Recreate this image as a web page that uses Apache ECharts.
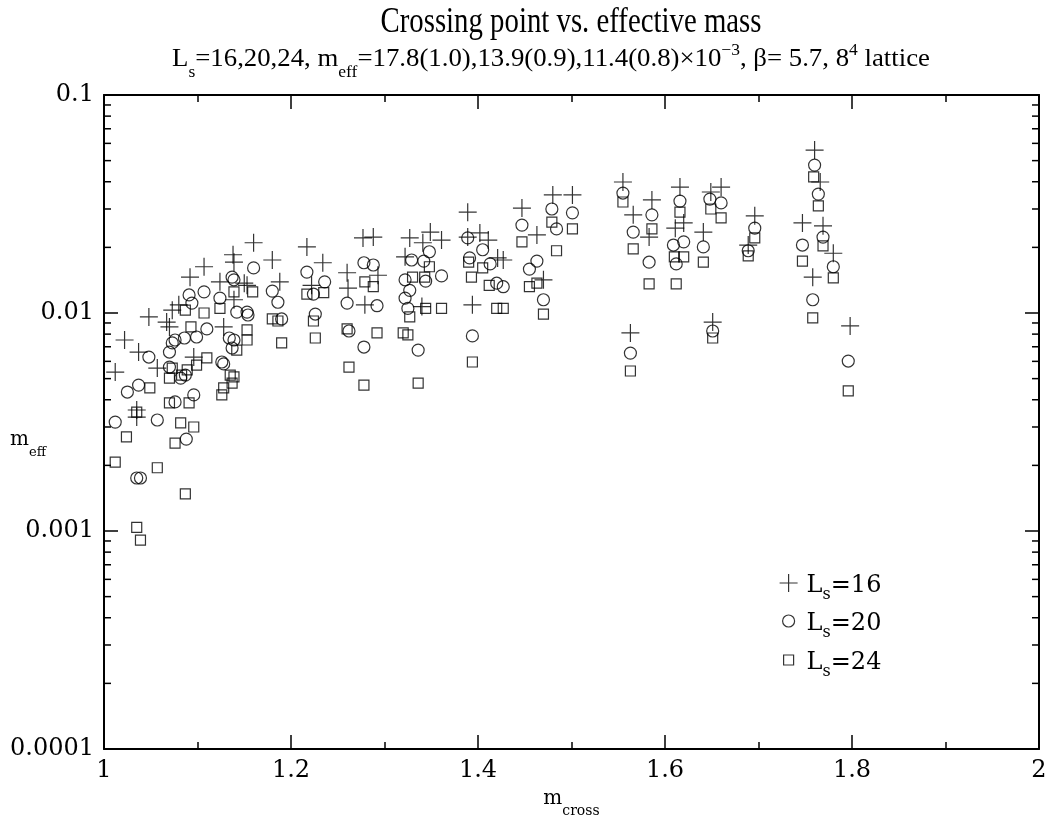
<!DOCTYPE html>
<html>
<head>
<meta charset="utf-8">
<script src="https://cdn.jsdelivr.net/npm/echarts@6/dist/echarts.min.js"></script>
<style>
  html, body { margin: 0; padding: 0; background: #fff; }
  #chart { width: 1045px; height: 839px; }
</style>
</head>
<body>
<div id="chart"></div>
<script>
// Axis ranges and tick labels
const xRange = [1, 2];
const xTickLabels = ['1', '1.2', '1.4', '1.6', '1.8', '2'];
const yRange = [0.0001, 0.1];
const yTickLabels = ['0.0001', '0.001', '0.01', '0.1'];
const yMinorTicks = [
  0.0002, 0.0003, 0.0004, 0.0005, 0.0006, 0.0007, 0.0008, 0.0009,
  0.002, 0.003, 0.004, 0.005, 0.006, 0.007, 0.008, 0.009,
  0.02, 0.03, 0.04, 0.05, 0.06, 0.07, 0.08, 0.09
];

// Series names
const seriesNames = ['L_s=16', 'L_s=20', 'L_s=24'];

// [m_cross, m_eff] for L_s = 16
const ls16 = [
  [1.138, 0.0185], [1.139, 0.0171], [1.107, 0.0163], [1.092, 0.0146], [1.150, 0.0137],
  [1.124, 0.0139], [1.080, 0.0109], [1.139, 0.0115], [1.073, 0.0103], [1.048, 0.00959],
  [1.067, 0.00909], [1.070, 0.00863], [1.128, 0.00863], [1.022, 0.00752], [1.037, 0.00662],
  [1.096, 0.00628], [1.057, 0.00559], [1.012, 0.00536], [1.035, 0.00359], [1.035, 0.00333],
  [1.160, 0.0210], [1.180, 0.0175], [1.217, 0.0201], [1.234, 0.0170], [1.222, 0.0134],
  [1.188, 0.0139], [1.153, 0.0134], [1.277, 0.0221], [1.288, 0.0223], [1.260, 0.0153],
  [1.293, 0.0149], [1.261, 0.0130], [1.279, 0.0109], [1.327, 0.0221], [1.322, 0.0181],
  [1.389, 0.0290], [1.447, 0.0303], [1.480, 0.0348], [1.501, 0.0348], [1.349, 0.0235],
  [1.361, 0.0216], [1.341, 0.0210], [1.340, 0.0107], [1.389, 0.0223], [1.402, 0.0233],
  [1.411, 0.0216], [1.421, 0.0179], [1.427, 0.0175], [1.394, 0.0109], [1.463, 0.0228],
  [1.470, 0.0142], [1.555, 0.0399], [1.566, 0.0282], [1.586, 0.0330], [1.583, 0.0223],
  [1.616, 0.0378], [1.611, 0.0245], [1.620, 0.0259], [1.563, 0.00810], [1.760, 0.0559],
  [1.766, 0.0399], [1.649, 0.0359], [1.660, 0.0378], [1.641, 0.0235], [1.696, 0.0279],
  [1.689, 0.0205], [1.747, 0.0259], [1.769, 0.0251], [1.780, 0.0188], [1.758, 0.0146],
  [1.651, 0.00909], [1.798, 0.00872]
];

// [m_cross, m_eff] for L_s = 20
const ls20 = [
  [1.160, 0.0161], [1.137, 0.0146], [1.139, 0.0142], [1.091, 0.0121], [1.107, 0.0125],
  [1.124, 0.0117], [1.094, 0.0111], [1.142, 0.0101], [1.153, 0.0101], [1.110, 0.00845],
  [1.099, 0.00776], [1.086, 0.00768], [1.076, 0.00752], [1.073, 0.00729], [1.134, 0.00768],
  [1.139, 0.00752], [1.137, 0.00691], [1.048, 0.00628], [1.070, 0.00662], [1.126, 0.00596],
  [1.128, 0.00584], [1.070, 0.00565], [1.087, 0.00519], [1.082, 0.00503], [1.025, 0.00434],
  [1.037, 0.00467], [1.076, 0.00391], [1.096, 0.00421], [1.012, 0.00316], [1.057, 0.00323],
  [1.088, 0.00264], [1.035, 0.00175], [1.039, 0.00175], [1.217, 0.0154], [1.236, 0.0139],
  [1.180, 0.0126], [1.186, 0.0112], [1.224, 0.0122], [1.154, 0.00979], [1.190, 0.00939],
  [1.226, 0.00989], [1.278, 0.0170], [1.288, 0.0166], [1.260, 0.0111], [1.292, 0.0108],
  [1.262, 0.00827], [1.278, 0.00698], [1.329, 0.0175], [1.322, 0.0142], [1.327, 0.0127],
  [1.322, 0.0117], [1.325, 0.0105], [1.336, 0.00676], [1.447, 0.0253], [1.479, 0.0300],
  [1.501, 0.0288], [1.484, 0.0243], [1.348, 0.0191], [1.342, 0.0173], [1.361, 0.0148],
  [1.344, 0.0140], [1.389, 0.0221], [1.405, 0.0195], [1.391, 0.0179], [1.413, 0.0168],
  [1.420, 0.0137], [1.427, 0.0132], [1.394, 0.00785], [1.463, 0.0173], [1.455, 0.0159],
  [1.470, 0.0115], [1.555, 0.0355], [1.566, 0.0235], [1.586, 0.0282], [1.583, 0.0171],
  [1.616, 0.0326], [1.609, 0.0205], [1.620, 0.0212], [1.612, 0.0168], [1.563, 0.00655],
  [1.760, 0.0477], [1.764, 0.0351], [1.648, 0.0333], [1.660, 0.0320], [1.641, 0.0201],
  [1.696, 0.0245], [1.689, 0.0193], [1.747, 0.0205], [1.769, 0.0223], [1.780, 0.0163],
  [1.758, 0.0115], [1.651, 0.00827], [1.796, 0.00602]
];

// [m_cross, m_eff] for L_s = 24
const ls24 = [
  [1.139, 0.0125], [1.159, 0.0125], [1.087, 0.0103], [1.107, 0.0100], [1.124, 0.0105],
  [1.093, 0.00863], [1.153, 0.00836], [1.153, 0.00752], [1.142, 0.00676], [1.110, 0.00622],
  [1.099, 0.00577], [1.073, 0.00559], [1.089, 0.00548], [1.070, 0.00503], [1.083, 0.00519],
  [1.135, 0.00519], [1.139, 0.00509], [1.137, 0.00477], [1.049, 0.00453], [1.128, 0.00453],
  [1.126, 0.00421], [1.070, 0.00387], [1.091, 0.00387], [1.035, 0.00351], [1.082, 0.00313],
  [1.096, 0.00300], [1.024, 0.00270], [1.076, 0.00253], [1.012, 0.00207], [1.057, 0.00195],
  [1.087, 0.00148], [1.035, 0.00104], [1.039, 0.000909], [1.217, 0.0122], [1.235, 0.0124],
  [1.180, 0.00939], [1.186, 0.00919], [1.224, 0.00919], [1.190, 0.00729], [1.226, 0.00768],
  [1.279, 0.0139], [1.288, 0.0132], [1.260, 0.00845], [1.292, 0.00810], [1.262, 0.00565],
  [1.278, 0.00467], [1.330, 0.0146], [1.327, 0.00959], [1.320, 0.00810], [1.325, 0.00793],
  [1.336, 0.00477], [1.479, 0.0261], [1.501, 0.0243], [1.484, 0.0193], [1.348, 0.0163],
  [1.343, 0.0146], [1.344, 0.0105], [1.361, 0.0105], [1.390, 0.0171], [1.405, 0.0161],
  [1.393, 0.0146], [1.412, 0.0134], [1.420, 0.0105], [1.427, 0.0105], [1.394, 0.00596],
  [1.447, 0.0212], [1.463, 0.0137], [1.455, 0.0132], [1.470, 0.00989], [1.555, 0.0323],
  [1.566, 0.0197], [1.586, 0.0243], [1.583, 0.0136], [1.616, 0.0290], [1.610, 0.0181],
  [1.620, 0.0181], [1.612, 0.0136], [1.563, 0.00542], [1.641, 0.0171], [1.759, 0.0421],
  [1.764, 0.0310], [1.649, 0.0300], [1.660, 0.0273], [1.696, 0.0221], [1.689, 0.0183],
  [1.747, 0.0173], [1.769, 0.0203], [1.780, 0.0145], [1.758, 0.00949], [1.651, 0.00768],
  [1.796, 0.00439]
];

const SERIF = '"Liberation Serif", "Times New Roman", serif';
const WIDE_SERIF = '"DejaVu Serif", serif';
const plusPath = 'path://M0,9L18,9M9,0L9,18';
const markStyle = { color: 'transparent', borderColor: '#000', borderWidth: 1.2 };

// Rich text pieces for the subtitle: normal, subscript, superscript
const subtitleRich = {
  n: { fontFamily: SERIF, fontSize: 26, fill: '#000', color: '#000', lineHeight: 30, verticalAlign: 'top', padding: [8, 0, 0, 0] },
  s: { fontFamily: SERIF, fontSize: 17, fill: '#000', color: '#000', lineHeight: 19, verticalAlign: 'top', padding: [26, 0, 0, 0] },
  p: { fontFamily: SERIF, fontSize: 17, fill: '#000', color: '#000', lineHeight: 19, verticalAlign: 'top', padding: [4, 0, 0, 0] }
};

// Legend labels "L_s=.."
const legendRich = {
  n: { fontFamily: WIDE_SERIF, fontSize: 24, color: '#000', lineHeight: 24, verticalAlign: 'top', padding: [3, 0, 0, 0] },
  s: { fontFamily: WIDE_SERIF, fontSize: 16, color: '#000', lineHeight: 16, verticalAlign: 'top', padding: [16, 0, 0, 0] }
};

function legendLabel(name) {
  return '{n|L}{s|s}{n|=' + name.split('=')[1] + '}';
}

function makeLegend(name, icon, size, centerY) {
  return {
    data: [{ name: name, icon: icon }],
    orient: 'vertical',
    padding: 0,
    left: 788 - size / 2,
    top: centerY - 12,
    itemWidth: size,
    itemHeight: size,
    itemStyle: { color: 'transparent', borderColor: '#000', borderWidth: 1.2 },
    formatter: legendLabel,
    textStyle: { rich: legendRich, padding: [0, 0, 0, 806 - (788 + size / 2) - 5] },
    selectedMode: false
  };
}

const chart = echarts.init(document.getElementById('chart'), null, { renderer: 'canvas' });

const axisLine = { show: true, lineStyle: { color: '#000', width: 2 } };
const tickStyle = { color: '#000', width: 1.5 };

chart.setOption({
  animation: false,
  backgroundColor: '#fff',
  grid: { left: 104, right: 6, top: 95, bottom: 90, containLabel: false, outerBoundsMode: 'none' },
  graphic: [
    {
      type: 'text', x: 571, y: 5, scaleX: 0.8,
      style: { text: 'Crossing point vs. effective mass', fontFamily: SERIF, fontSize: 36, fill: '#000', align: 'center', verticalAlign: 'top' }
    },
    {
      type: 'text', x: 551, y: 38, scaleX: 1.03,
      style: {
        text: '{n|L}{s|s}{n|=16,20,24, m}{s|eff}{n|=17.8(1.0),13.9(0.9),11.4(0.8)×10}{p|−3}{n|, β= 5.7, 8}{p|4}{n| lattice}',
        rich: subtitleRich,
        align: 'center', verticalAlign: 'top'
      }
    },
    {
      // y-axis title m_eff
      type: 'text', x: 10, y: 430,
      style: {
        text: '{m|m}{s|eff}',
        rich: {
          m: { fontFamily: WIDE_SERIF, fontSize: 20, fill: '#000', color: '#000', lineHeight: 24, verticalAlign: 'top', padding: [0, 0, 0, 0] },
          s: { fontFamily: WIDE_SERIF, fontSize: 13, fill: '#000', color: '#000', lineHeight: 14, verticalAlign: 'top', padding: [16, 0, 0, 0] }
        },
        align: 'left', verticalAlign: 'top'
      }
    }
  ],
  legend: [
    makeLegend(seriesNames[0], plusPath, 18, 583),
    makeLegend(seriesNames[1], 'circle', 12, 621),
    makeLegend(seriesNames[2], 'rect', 10, 660)
  ],
  xAxis: [
    {
      type: 'value', min: xRange[0], max: xRange[1], interval: 0.2,
      position: 'bottom',
      axisLine: axisLine,
      axisTick: { inside: true, length: 14, lineStyle: tickStyle },
      minorTick: { show: true, splitNumber: 2, length: 7, lineStyle: tickStyle },
      splitLine: { show: false },
      axisLabel: {
        margin: 10, color: '#000', fontFamily: WIDE_SERIF, fontSize: 24,
        formatter: v => xTickLabels[Math.round((v - xRange[0]) / 0.2)]
      },
      name: '{m|m}{s|cross}', nameLocation: 'middle', nameGap: 40,
      nameTextStyle: {
        rich: {
          m: { fontFamily: WIDE_SERIF, fontSize: 20, color: '#000', lineHeight: 22, verticalAlign: 'top', padding: [0, 0, 0, 0] },
          s: { fontFamily: WIDE_SERIF, fontSize: 14, color: '#000', lineHeight: 16, verticalAlign: 'top', padding: [15, 0, 0, 0] }
        }
      }
    },
    {
      type: 'value', min: xRange[0], max: xRange[1], interval: 0.2,
      position: 'top',
      axisLine: axisLine,
      axisTick: { inside: true, length: 14, lineStyle: tickStyle },
      minorTick: { show: true, splitNumber: 2, length: 7, lineStyle: tickStyle },
      splitLine: { show: false },
      axisLabel: { show: false }
    }
  ],
  yAxis: [
    {
      type: 'log', logBase: 10, min: yRange[0], max: yRange[1],
      position: 'left',
      axisLine: axisLine,
      axisTick: { inside: true, length: 14, lineStyle: tickStyle },
      splitLine: { show: false },
      axisLabel: {
        margin: 10, color: '#000', fontFamily: WIDE_SERIF, fontSize: 24,
        formatter: v => yTickLabels[Math.round(Math.log10(v) - Math.log10(yRange[0]))]
      }
    },
    {
      type: 'log', logBase: 10, min: yRange[0], max: yRange[1],
      position: 'right',
      axisLine: axisLine,
      axisTick: { inside: true, length: 14, lineStyle: tickStyle },
      splitLine: { show: false },
      axisLabel: { show: false }
    }
  ],
  series: [
    {
      // minor ticks of the logarithmic axes (both sides)
      type: 'custom', name: 'minorTicks', xAxisIndex: 0, yAxisIndex: 0,
      silent: true, clip: false, z: 5,
      data: yMinorTicks.map(v => [xRange[0], v]),
      renderItem: function (params, api) {
        const v = api.value(1);
        const l = api.coord([xRange[0], v]);
        const r = api.coord([xRange[1], v]);
        return {
          type: 'group',
          children: [
            { type: 'line', shape: { x1: l[0], y1: l[1], x2: l[0] + 7, y2: l[1] }, style: { stroke: '#000', lineWidth: 1.5 } },
            { type: 'line', shape: { x1: r[0], y1: r[1], x2: r[0] - 7, y2: r[1] }, style: { stroke: '#000', lineWidth: 1.5 } }
          ]
        };
      }
    },
    {
      type: 'scatter', name: seriesNames[0], data: ls16,
      symbol: plusPath, symbolSize: 18, itemStyle: markStyle,
      emphasis: { disabled: true }
    },
    {
      type: 'scatter', name: seriesNames[1], data: ls20,
      symbol: 'circle', symbolSize: 12, itemStyle: markStyle,
      emphasis: { disabled: true }
    },
    {
      type: 'scatter', name: seriesNames[2], data: ls24,
      symbol: 'rect', symbolSize: 10, itemStyle: markStyle,
      emphasis: { disabled: true }
    }
  ]
});
</script>
</body>
</html>
